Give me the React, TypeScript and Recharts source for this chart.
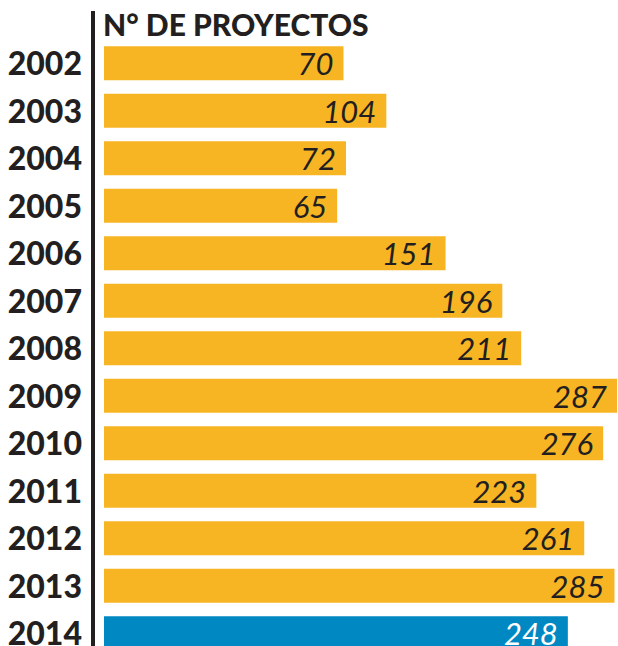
import React from "react";
import { BarChart, Bar, XAxis, YAxis, Cell, LabelList } from "recharts";

// Projects per year, 2002–2014. The original graphic does not start its
// bars at zero, so bars are drawn as ranges from a shared baseline.

const years = [
  "2002", "2003", "2004", "2005", "2006", "2007", "2008",
  "2009", "2010", "2011", "2012", "2013", "2014",
];
const projects = [70, 104, 72, 65, 151, 196, 211, 287, 276, 223, 261, 285, 248];
const highlightYear = "2014";
const BASE = -120;

const INK = "#231F20";
const ORANGE = "#F7B524";
const BLUE = "#0088C2";
const FONT = "Lato, 'Open Sans', sans-serif";

const rows = years.map((y, i) => ({ year: y, value: projects[i] }));

function YearTick(props: any) {
  const { y, payload } = props;
  return (
    <text x={82} y={y + 12} textAnchor="end" fontFamily={FONT} fontWeight={900} fontSize={32} fill={INK}>
      {payload.value}
    </text>
  );
}

function ValueLabel(props: any) {
  const { x, y, width, height, value, index } = props;
  const hi = rows[index]?.year === highlightYear;
  return (
    <text
      x={x + width - 10}
      y={y + height / 2 + 12}
      textAnchor="end"
      fontFamily={FONT}
      fontStyle="italic"
      fontSize={31}
      fill={hi ? "#ffffff" : INK}
    >
      {value}
    </text>
  );
}

export default function App() {
  return (
    <div style={{ position: "absolute", left: 0, top: 0, width: 618, height: 646, overflow: "hidden", background: "#fff" }}>
      <BarChart
        width={618}
        height={660}
        layout="vertical"
        data={rows}
        margin={{ top: 39.25, right: 1, bottom: 3.25, left: 0 }}
      >
        <XAxis type="number" hide domain={[BASE, 287]} />
        <YAxis type="category" dataKey="year" width={104} axisLine={false} tickLine={false} tick={<YearTick />} />
        <Bar dataKey={(d: any) => [BASE, d.value]} barSize={34} isAnimationActive={false}>
          {rows.map((r) => (
            <Cell key={r.year} fill={r.year === highlightYear ? BLUE : ORANGE} />
          ))}
          <LabelList dataKey="value" content={<ValueLabel />} />
        </Bar>
      </BarChart>
      <svg width={618} height={646} style={{ position: "absolute", left: 0, top: 0, pointerEvents: "none" }}>
        <rect x={91} y={11} width={4} height={635} fill={INK} />
        <text x={103} y={36} fontFamily={FONT} fontWeight={900} fontSize={30} fill={INK}>
          N° DE PROYECTOS
        </text>
      </svg>
    </div>
  );
}
